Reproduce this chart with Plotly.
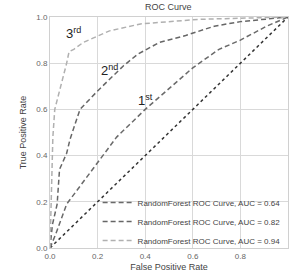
import plotly.graph_objects as go

# Data
fpr1 = [0.0, 0.024, 0.07, 0.2, 0.28, 0.4, 0.49, 0.6, 0.71, 0.8, 0.91, 1.0]
tpr1 = [0.0, 0.06, 0.19, 0.37, 0.48, 0.6, 0.68, 0.78, 0.86, 0.9, 0.96, 1.0]

fpr2 = [0.0, 0.01, 0.03, 0.04, 0.07, 0.084, 0.1, 0.126, 0.2, 0.31, 0.37, 0.46, 0.57, 0.69, 0.8, 1.0]
tpr2 = [0.0, 0.1, 0.19, 0.34, 0.41, 0.47, 0.52, 0.6, 0.68, 0.79, 0.84, 0.89, 0.92, 0.96, 0.98, 1.0]

fpr3 = [0.0, 0.005, 0.008, 0.012, 0.02, 0.035, 0.06, 0.07, 0.08, 0.1, 0.14, 0.25, 0.38, 0.63, 1.0]
tpr3 = [0.0, 0.2, 0.35, 0.48, 0.6, 0.66, 0.75, 0.8, 0.85, 0.86, 0.89, 0.94, 0.97, 0.99, 1.0]

names = ["RandomForest ROC Curve, AUC = 0.64",
         "RandomForest ROC Curve, AUC = 0.82",
         "RandomForest ROC Curve, AUC = 0.94"]
labels = ["1<sup>st</sup>", "2<sup>nd</sup>", "3<sup>rd</sup>"]
label_x = [0.4, 0.25, 0.1]
label_y = [0.64, 0.77, 0.93]

fig = go.Figure()
fig.add_trace(go.Scatter(x=[0, 1], y=[0, 1], mode="lines", showlegend=False,
                         line=dict(color="#333333", width=1.5, dash="dot")))
fig.add_trace(go.Scatter(x=fpr1, y=tpr1, mode="lines", name=names[0],
                         line=dict(color="#6a6a6a", width=1.5, dash="5px,3px")))
fig.add_trace(go.Scatter(x=fpr2, y=tpr2, mode="lines", name=names[1],
                         line=dict(color="#666666", width=1.5, dash="5px,3px")))
fig.add_trace(go.Scatter(x=fpr3, y=tpr3, mode="lines", name=names[2],
                         line=dict(color="#b0b0b0", width=1.5, dash="5px,3px")))

for t, x, y in zip(labels, label_x, label_y):
    fig.add_annotation(x=x, y=y, text=t, showarrow=False,
                       font=dict(size=13, color="#222222", family="Liberation Sans"))

fig.update_layout(
    width=290, height=277,
    margin=dict(l=50, r=2, t=17, b=29),
    paper_bgcolor="white", plot_bgcolor="white",
    font=dict(family="Liberation Sans", size=8, color="#555555"),
    title=dict(text="ROC Curve", x=0.58, xanchor="center", y=0.985, yanchor="top",
               font=dict(size=9, color="#444444")),
    legend=dict(x=0.99, xanchor="right", y=0.115, yanchor="middle",
                bgcolor="rgba(0,0,0,0)", font=dict(size=8, color="#444444"),
                itemwidth=30, tracegroupgap=0),
    showlegend=True,
)
fig.update_xaxes(range=[0, 1], tickvals=[0, 0.2, 0.4, 0.6, 0.8, 1.0], tickformat=".1f",
                 showgrid=True, gridcolor="#d9d9d9", gridwidth=1, zeroline=False,
                 showline=True, linecolor="#d0d0d0", mirror=True,
                 title=dict(text="False Positive Rate", font=dict(size=9, color="#444444"), standoff=4),
                 tickfont=dict(size=8, color="#666666"), ticks="", ticklen=2)
fig.update_yaxes(range=[0, 1], tickvals=[0, 0.2, 0.4, 0.6, 0.8, 1.0], tickformat=".1f",
                 showgrid=True, gridcolor="#d9d9d9", gridwidth=1, zeroline=False,
                 showline=True, linecolor="#d0d0d0", mirror=True,
                 title=dict(text="True Positive Rate", font=dict(size=9, color="#444444"), standoff=8),
                 tickfont=dict(size=8, color="#666666"), ticks="")

fig.write_html("out.html")
